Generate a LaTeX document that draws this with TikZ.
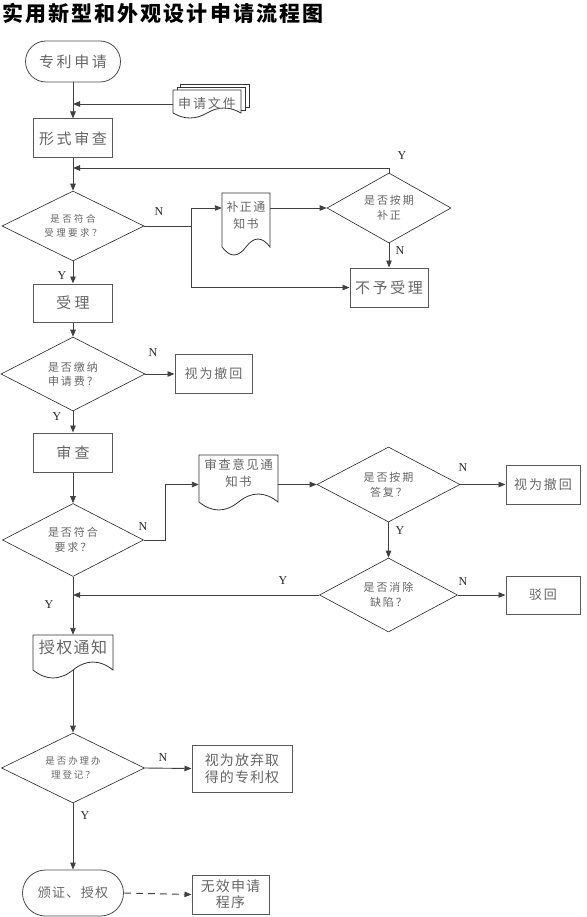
\documentclass[tikz,border=0pt]{standalone}
\usepackage{fontspec}
\setmainfont{Liberation Serif}
\newfontfamily\cjk{Noto Sans CJK SC}
\usetikzlibrary{shapes.geometric,shapes.misc,arrows.meta}
\newcommand\zf[3]{\fontsize{#1}{#2}\cjk\addfontfeature{LetterSpace=#3}}
\newcommand\docpath[5]{%
  \draw[docline] (#1,#4) -- (#1,#2) -- (#3,#2) -- (#3,#4)
   .. controls ({#3-(#3-#1)/6},{#4-1.33*#5}) and ({#3-(#3-#1)/3},{#4-1.33*#5}) .. ({(#1+#3)/2},#4)
   .. controls ({(#1+#3)/2-(#3-#1)/6},{#4+1.33*#5}) and ({#1+(#3-#1)/6},{#4+1.33*#5}) .. (#1,#4) -- cycle;}
\tikzset{
  base/.style={inner sep=0pt, align=center, text=black!60},
  box/.style={base, rectangle, draw=black!65, line width=1pt},
  term/.style={base, rounded rectangle, draw=black!70, line width=0.8pt},
  dia/.style={base, diamond, aspect=2, draw=black!85, line width=0.6pt},
  ghost/.style={base, rectangle},
  lab/.style={inner sep=0pt, text=black!85, font=\fontsize{12}{12}\selectfont},
  arr/.style={draw=black!75, line width=0.9pt, -{Triangle[length=7pt,width=5.5pt]}},
  ln/.style={draw=black!75, line width=0.9pt},
  docline/.style={draw=black!80, line width=0.8pt},
}
\begin{document}
\begin{tikzpicture}[x=1pt,y=-1pt]
\useasboundingbox (0,0) rectangle (586,917);
% title
\node[anchor=west, inner sep=0pt, font={\fontsize{21}{24}\cjk\bfseries\addfontfeature{LetterSpace=10}}] (title) at (2,13) {实用新型和外观设计申请流程图};

% nodes
\node[term, minimum width=95, minimum height=41, font={\zf{15}{19}{17}}] (start) at (73,61.5) {专利申请};

\draw[docline] (180,87) -- (180,84) -- (249,84) -- (249,107) -- (245,107);
\draw[docline] (177,90) -- (177,87) -- (245,87) -- (245,110) -- (241,110);
\docpath{173}{90}{241}{113}{5}
\node[ghost, minimum width=68, minimum height=20, font={\zf{13}{16}{15}}] (docs) at (207,104) {申请文件};

\node[box, minimum width=79, minimum height=39, font={\zf{15}{19}{17}}] (form) at (73,138.5) {形式审查};

\node[dia, minimum width=142, minimum height=70, font={\zf{9.5}{14}{26}}] (d1) at (73,226) {是否符合\\受理要求？};

\node[dia, minimum width=124, minimum height=70, font={\zf{11}{15}{18}}] (d2) at (389,208) {是否按期\\补正};

\docpath{222}{193}{270}{247}{8}
\node[ghost, minimum width=48, minimum height=30] (doc1) at (246,208) {};
\node[base, font={\zf{12}{17}{11}}] (doc1t) at (246,215.5) {补正通\\知书};

\node[box, minimum width=78, minimum height=39, font={\zf{15}{19}{17}}] (rej1) at (389,287.5) {不予受理};

\node[box, minimum width=79, minimum height=38, font={\zf{15}{19}{22}}] (acc) at (73,303) {受理};

\node[dia, minimum width=144, minimum height=74, font={\zf{11}{14}{18}}] (d3) at (73,374) {是否缴纳\\申请费？};
\node[box, minimum width=77, minimum height=39, font={\zf{13}{16}{15}}] (wd1) at (213.5,374) {视为撤回};

\node[box, minimum width=79, minimum height=39, font={\zf{15}{19}{22}}] (exam) at (73,452.5) {审查};

\node[dia, minimum width=141, minimum height=73, font={\zf{11}{15}{18}}] (d4) at (73,540) {是否符合\\要求？};

\docpath{199}{455}{278}{502}{8}
\node[ghost, minimum width=79, minimum height=30] (doc2) at (238.5,484.5) {};
\node[base, font={\zf{12.5}{17}{12}}] (doc2t) at (238.5,473.5) {审查意见通\\知书};

\node[dia, minimum width=143, minimum height=75, font={\zf{11}{15}{18}}] (d5) at (388.5,484.5) {是否按期\\答复？};
\node[box, minimum width=74, minimum height=39, font={\zf{13}{16}{15}}] (wd2) at (543,484.5) {视为撤回};

\node[dia, minimum width=138, minimum height=74, font={\zf{11}{15}{18}}] (d6) at (388.5,595) {是否消除\\缺陷？};
\node[box, minimum width=74, minimum height=38, font={\zf{13}{16}{15}}] (rej2) at (543,595) {驳回};

\docpath{33}{635}{113}{670}{8}
\node[ghost, minimum width=80, minimum height=24, font={\zf{16}{19}{9}}] (doc3) at (73,647) {授权通知};
\coordinate (b3) at (73,670);

\node[dia, minimum width=143, minimum height=70, font={\zf{9.5}{14}{20}}] (d7) at (73,768) {是否办理办\\理登记？};
\node[box, minimum width=100, minimum height=47, font={\zf{14}{17}{8}}] (give) at (242,768.5) {视为放弃取\\得的专利权};

\node[term, minimum width=101, minimum height=46, font={\zf{13}{16}{10}}] (term2) at (73,893) {颁证、授权};
\node[box, minimum width=77, minimum height=39, font={\zf{14}{16}{8}}] (inv) at (230.5,894.5) {无效申请\\程序};

% labels
\node[lab] (l1) at (402,156) {Y};
\node[lab] (l2) at (159,212) {N};
\node[lab] (l3) at (400,251) {N};
\node[lab] (l4) at (62,276) {Y};
\node[lab] (l5) at (153,353) {N};
\node[lab] (l6) at (57,417) {Y};
\node[lab] (l7) at (143,527) {N};
\node[lab] (l8) at (463,468) {N};
\node[lab] (l9) at (400,531) {Y};
\node[lab] (l10) at (463,582) {N};
\node[lab] (l11) at (283,581) {Y};
\node[lab] (l12) at (49,605) {Y};
\node[lab] (l13) at (163,758) {N};
\node[lab] (l14) at (85,816) {Y};

% connectors
\coordinate (j2) at (73,168);
\coordinate (s1) at (191,226);
\coordinate (s2) at (165,540);
\draw[arr] (start.south) -- (form.north);
\draw[arr] (docs.west) -- (docs.west -| form.north);
\draw[arr] (form.south) -- (d1.north);
\draw[arr] (d2.north) |- (j2);
\draw[ln] (d1.east) -- (s1);
\draw[arr] (s1) |- (doc1.west);
\draw[arr] (s1) |- (rej1.west);
\draw[arr] (doc1.east) -- (d2.west);
\draw[arr] (d2.south) -- (rej1.north);
\draw[arr] (d1.south) -- (acc.north);
\draw[arr] (acc.south) -- (d3.north);
\draw[arr] (d3.east) -- (wd1.west);
\draw[arr] (d3.south) -- (exam.north);
\draw[arr] (exam.south) -- (d4.north);
\draw[arr] (d4.east) -- (s2) |- (doc2.west);
\draw[arr] (doc2.east) -- (d5.west);
\draw[arr] (d5.east) -- (wd2.west);
\draw[arr] (d5.south) -- (d6.north);
\draw[arr] (d6.east) -- (rej2.west);
\draw[arr] (d6.west) -- (d6.west -| d4.south);
\draw[arr] (d4.south) -- (doc3.north);
\draw[arr] (b3) -- (d7.north);
\draw[arr] (d7.east) -- (give.west);
\draw[arr] (d7.south) -- (term2.north);
\draw[arr, dash pattern=on 7pt off 5pt] (term2.east) -- (inv.west);
\end{tikzpicture}
\end{document}
